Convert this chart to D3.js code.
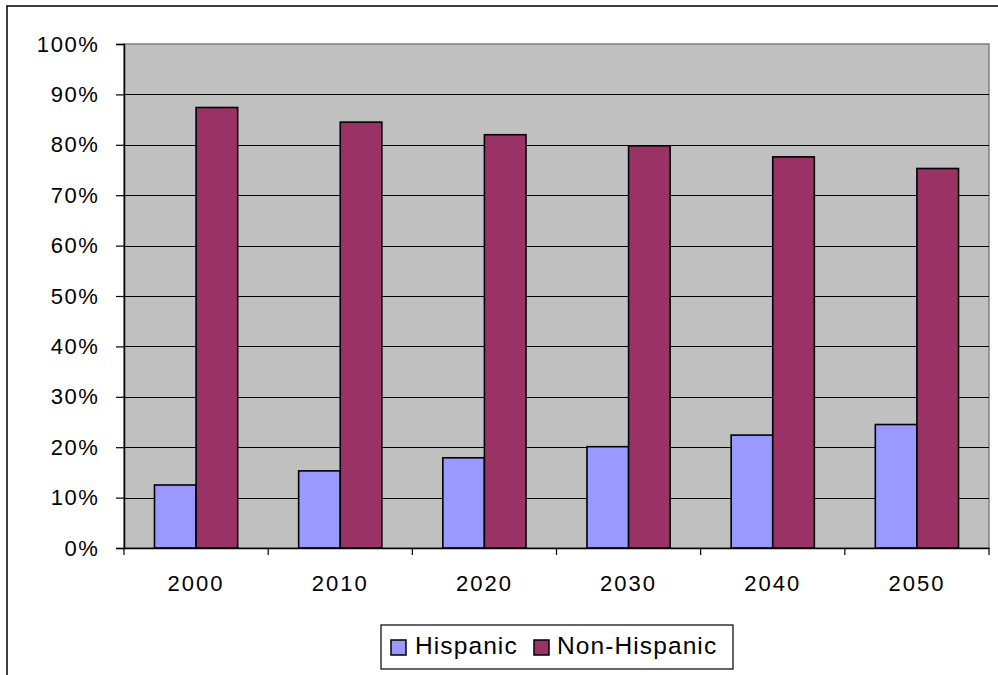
<!DOCTYPE html>
<html><head><meta charset="utf-8">
<script src="https://cdn.jsdelivr.net/npm/d3@7"></script>
<style>body{margin:0;background:#fff}svg{display:block}text{font-family:"Liberation Sans",Arial,sans-serif;fill:#000}</style>
</head><body>
<svg id="c" width="998" height="675"></svg>
<script>
const categories = ["2000","2010","2020","2030","2040","2050"];
const hispanic = [0.125, 0.153, 0.179, 0.201, 0.224, 0.245];
const nonHispanic = [0.874, 0.845, 0.820, 0.798, 0.776, 0.753];
const yTicks = [0,0.1,0.2,0.3,0.4,0.5,0.6,0.7,0.8,0.9,1.0];
const seriesNames = ["Hispanic","Non-Hispanic"];
const colors = ["#9999FF","#993366"];

const svg = d3.select("#c");
const L = 124, R = 989, T = 44, B = 548;

// outer chart border
svg.append("rect").attr("x",7).attr("y",6).attr("width",1000).attr("height",700)
  .attr("fill","#fff").attr("stroke","#000").attr("stroke-width",1.5);

const x = d3.scaleBand().domain(categories).range([L,R]).paddingInner(0).paddingOuter(0);
const y = d3.scaleLinear().domain([0,1]).range([B,T]);

svg.append("rect").attr("x",L).attr("y",T).attr("width",R-L).attr("height",B-T)
  .attr("fill","#C0C0C0").attr("stroke","#808080").attr("stroke-width",1.5);

// gridlines
svg.append("g").selectAll("line").data(yTicks.slice(1,-1)).join("line")
  .attr("x1",L).attr("x2",R).attr("y1",d=>Math.round(y(d))+0.5).attr("y2",d=>Math.round(y(d))+0.5)
  .attr("stroke","#000").attr("stroke-width",1);

// bars
const bw = x.bandwidth();
const barW = bw*0.2885;
const x1 = d3.scaleBand().domain(seriesNames).range([bw/2-barW, bw/2+barW]);
const data = [hispanic, nonHispanic];
data.forEach((vals,si)=>{
  svg.append("g").selectAll("rect").data(vals).join("rect")
    .attr("x",(d,i)=>x(categories[i])+x1(seriesNames[si]))
    .attr("width",x1.bandwidth())
    .attr("y",d=>y(d)).attr("height",d=>B-y(d))
    .attr("fill",colors[si]).attr("stroke","#000").attr("stroke-width",1.6);
});

// y axis
const yAxis = d3.axisLeft(y).tickValues(yTicks).tickFormat(d3.format(".0%")).tickSize(8).tickPadding(18);
const gy = svg.append("g").attr("transform",`translate(${L},0)`).call(yAxis);
gy.select(".domain").attr("stroke","#000").attr("stroke-width",1.5);
gy.selectAll(".tick line").attr("stroke","#000").attr("stroke-width",1.2);
gy.selectAll("text").attr("font-size",22).attr("letter-spacing","1.6px").attr("dx","1.5px")
  .style("font-family",'"Liberation Sans",Arial,sans-serif');

// x axis
const xAxis = d3.axisBottom(x).tickSize(0).tickPadding(26);
const gx = svg.append("g").attr("transform",`translate(0,${B})`).call(xAxis);
gx.select(".domain").attr("stroke","#000").attr("stroke-width",1.5);
gx.selectAll("text").attr("font-size",22).attr("letter-spacing","2px").attr("dy","0.75em")
  .style("font-family",'"Liberation Sans",Arial,sans-serif');
// category boundary ticks
const bounds = categories.map(c=>x(c)).concat([R]);
svg.append("g").selectAll("line").data(bounds).join("line")
  .attr("x1",d=>d).attr("x2",d=>d).attr("y1",B).attr("y2",B+7)
  .attr("stroke","#000").attr("stroke-width",1.2);

// legend
const lg = svg.append("g");
lg.append("rect").attr("x",381).attr("y",625).attr("width",352).attr("height",44)
  .attr("fill","#fff").attr("stroke","#000").attr("stroke-width",1.2);
const legendItems = [{sx:391, tx:415},{sx:534, tx:557}];
seriesNames.forEach((n,i)=>{
  lg.append("rect").attr("x",legendItems[i].sx).attr("y",640).attr("width",15).attr("height",15)
    .attr("fill",colors[i]).attr("stroke","#000").attr("stroke-width",1.5);
  lg.append("text").attr("x",legendItems[i].tx).attr("y",654).attr("font-size",24.5)
    .attr("letter-spacing","1.1px").text(n);
});
</script>
</body></html>
